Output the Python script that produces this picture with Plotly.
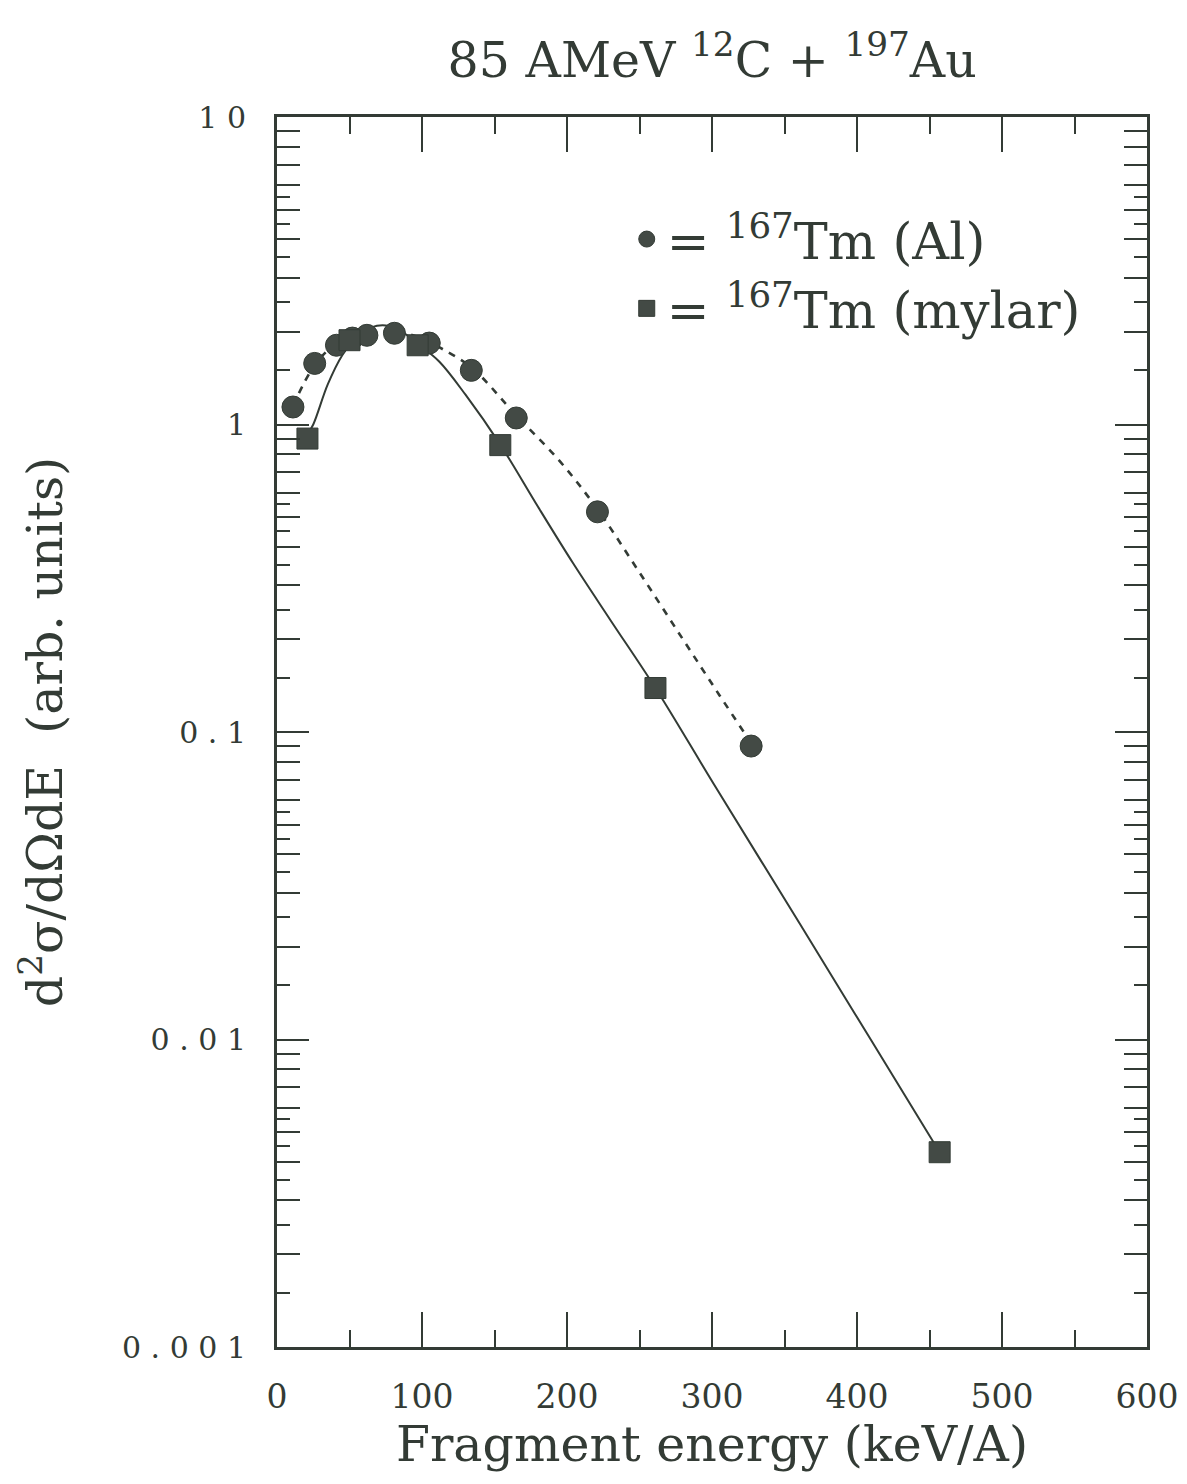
import plotly.graph_objects as go

# ---------------- data ----------------
al_x = [11, 26, 41, 52, 62, 81, 105, 134, 165, 221, 327]
al_y = [1.14, 1.58, 1.81, 1.91, 1.95, 1.98, 1.84, 1.50, 1.05, 0.52, 0.090]

my_x = [21, 50, 97, 154, 261, 457]
my_y = [0.90, 1.88, 1.81, 0.857, 0.139, 0.0043]

# smooth guide curves
al_fit_x = [11, 26, 40, 55, 70, 85, 100, 115, 135, 165, 195, 221, 250, 280, 305, 327]
al_fit_y = [1.15, 1.56, 1.82, 1.95, 2.0, 2.0, 1.9, 1.75, 1.52, 1.07, 0.76, 0.53, 0.33, 0.20, 0.132, 0.092]

my_fit_x = [21, 25, 35, 45, 55, 65, 75, 85, 97, 112, 130, 154, 180, 204, 230, 261, 301, 361, 410, 457]
my_fit_y = [0.93, 1.0, 1.35, 1.68, 1.93, 2.07, 2.1, 2.02, 1.83, 1.6, 1.25, 0.86, 0.54, 0.355, 0.231, 0.139,
            0.068, 0.0236, 0.0099, 0.0043]

x_ticks = [0, 100, 200, 300, 400, 500, 600]
x_minor = [50, 150, 250, 350, 450, 550]
y_major = [0.001, 0.01, 0.1, 1, 10]
y_major_text = ["0 . 0 0 1", "0 . 0 1", "0 . 1", "1", "1 0"]
y_minor = [m * 10 ** e for e in range(-3, 1) for m in range(2, 10)]
y_half = [m * 10 ** e for e in range(-3, 1) for m in (1.5, 2.5, 3.5, 4.5, 5.5)]

title_text = "85 AMeV <sup>12</sup>C + <sup>197</sup>Au"
x_title = "Fragment energy (keV/A)"
y_title = "d<sup>2</sup>σ/dΩdE\u00a0\u00a0(arb. units)"
name_al = "= <sup>167</sup>Tm (Al)"
name_my = "= <sup>167</sup>Tm (mylar)"

INK = "#333b35"
FILL = "#434a45"
FONT = "DejaVu Serif"

fig = go.Figure()
fig.add_trace(go.Scatter(x=al_fit_x, y=al_fit_y, mode="lines",
                         line=dict(color=INK, width=2.6, dash="7px,7px", shape="spline"),
                         showlegend=False, hoverinfo="skip"))
fig.add_trace(go.Scatter(x=my_fit_x, y=my_fit_y, mode="lines",
                         line=dict(color=INK, width=2, shape="spline"),
                         showlegend=False, hoverinfo="skip"))
fig.add_trace(go.Scatter(x=al_x, y=al_y, mode="markers", name=name_al,
                         marker=dict(symbol="circle", size=22, color=FILL, line=dict(color=INK, width=1))))
fig.add_trace(go.Scatter(x=my_x, y=my_y, mode="markers", name=name_my,
                         marker=dict(symbol="square", size=21, color=FILL, line=dict(color=INK, width=1))))

fig.update_layout(
    width=1187, height=1484,
    margin=dict(l=277, r=40, t=117, b=137, autoexpand=False),
    paper_bgcolor="white", plot_bgcolor="white",
    font=dict(family=FONT, color=INK),
    title=dict(text=title_text, x=0.6, xanchor="center", y=0.96, yanchor="middle",
               font=dict(family=FONT, size=49, color=INK)),
    legend=dict(x=0.402, y=0.933, xanchor="left", yanchor="top", bgcolor="rgba(0,0,0,0)",
                font=dict(family=FONT, size=51, color=INK), itemsizing="trace", tracegroupgap=0),
    xaxis=dict(
        range=[0, 600], tickmode="array", tickvals=x_ticks, automargin=False,
        ticks="inside", ticklen=35, tickwidth=2, tickcolor=INK,
        minor=dict(tickmode="array", tickvals=x_minor, ticks="inside", ticklen=17, tickwidth=2, tickcolor=INK),
        showline=True, linewidth=3, linecolor=INK, mirror="ticks",
        showgrid=False, zeroline=False,
        tickfont=dict(family=FONT, size=33, color=INK), ticklabelstandoff=18,
        title=dict(text=x_title, font=dict(family=FONT, size=49, color=INK), standoff=12),
    ),
    yaxis=dict(
        type="log", range=[-3, 1], tickmode="array", tickvals=y_major, ticktext=y_major_text, automargin=False,
        ticks="inside", ticklen=32, tickwidth=2, tickcolor=INK,
        minor=dict(tickmode="array", tickvals=y_minor, ticks="inside", ticklen=23, tickwidth=2, tickcolor=INK),
        showline=True, linewidth=3, linecolor=INK, mirror="ticks",
        showgrid=False, zeroline=False,
        tickfont=dict(family=FONT, size=30, color=INK), ticklabelstandoff=22,
        title=dict(text=y_title, font=dict(family=FONT, size=49, color=INK), standoff=44),
    ),
    yaxis2=dict(
        type="log", range=[-3, 1], overlaying="y", anchor="x", side="left", automargin=False,
        tickmode="array", tickvals=y_half, ticks="inside", ticklen=13, tickwidth=2, tickcolor=INK,
        showticklabels=False, showgrid=False, zeroline=False, showline=False, mirror="ticks",
    ),
)
# invisible trace to activate the half-tick overlay axis
fig.add_trace(go.Scatter(x=[None], y=[None], yaxis="y2", showlegend=False, hoverinfo="skip"))

fig.write_html("out.html")
